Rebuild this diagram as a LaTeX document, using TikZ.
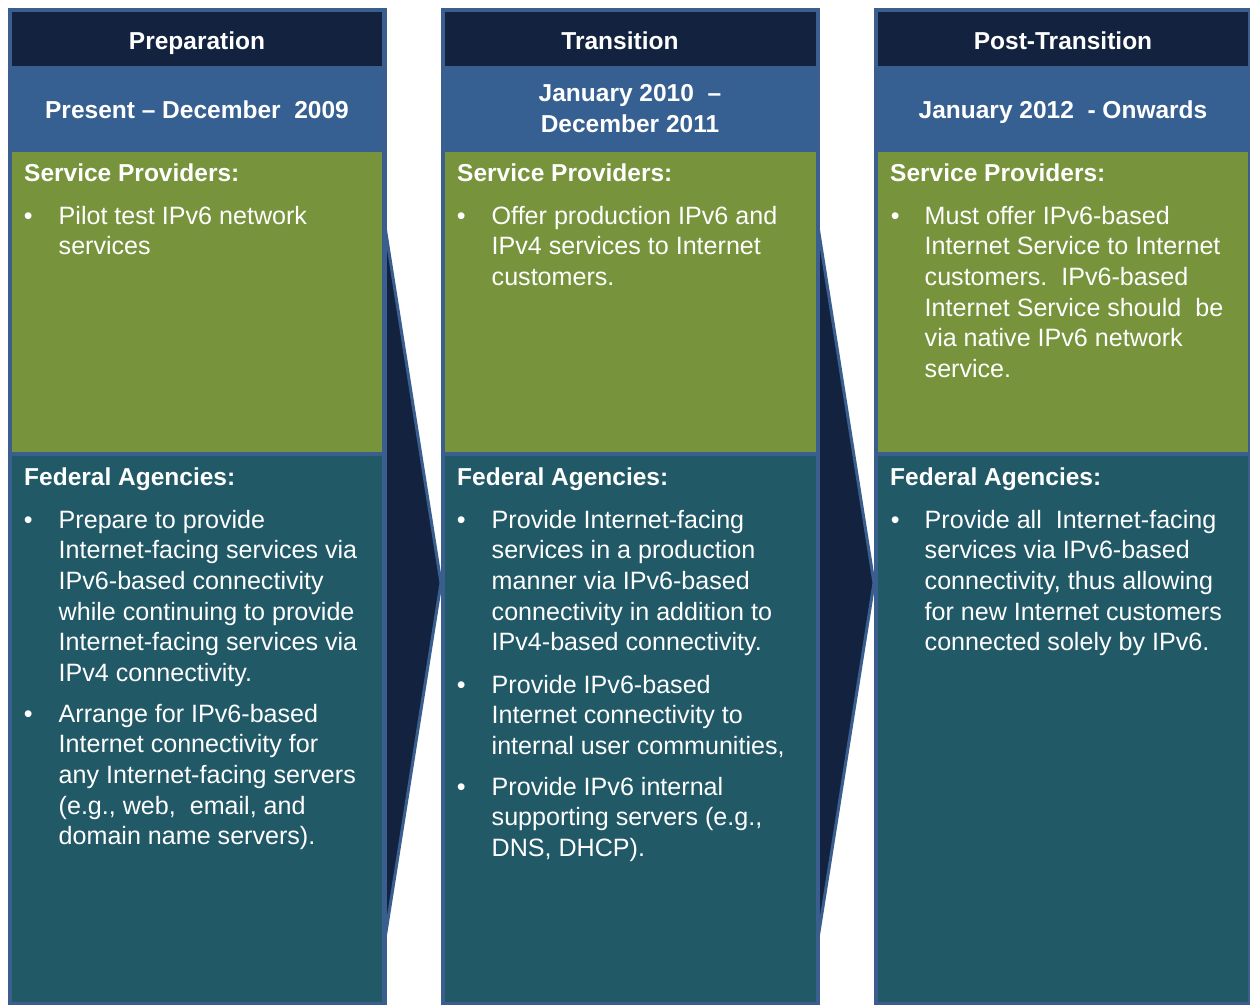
\documentclass[tikz,border=0pt]{standalone}
\usepackage{fontspec}
\setmainfont{Liberation Sans}
\definecolor{cNavy}{HTML}{13233F}
\definecolor{cBand}{HTML}{376092}
\definecolor{cBord}{HTML}{3A5F8F}
\definecolor{cOlive}{HTML}{77933C}
\definecolor{cTeal}{HTML}{215967}
\newcommand\drawcol[2]{%
  \fill[cBord] (#1,7.5) rectangle (#2,1005);
  \fill[cNavy] (#1+4.2,11.7) rectangle (#2-4.2,66);
  \fill[cBand] (#1+4.2,66) rectangle (#2-4.2,152.3);
  \fill[cOlive] (#1+4.2,152.3) rectangle (#2-4.2,452);
  \fill[cTeal] (#1+4.2,456) rectangle (#2-4.2,1001.5);
}
\newcommand\tlines[4]{%
  \foreach \myline [count=\i from 0] in {#4}
    \node[body] (#1-\i) at (#2,#3+\i*30.7) {\myline};
}
\begin{document}
\begin{tikzpicture}[x=1pt,y=-1pt,
  body/.style={anchor=base west,inner sep=0pt,text=white,font=\fontsize{25.1}{30.7}\selectfont},
  head/.style={anchor=base west,inner sep=0pt,text=white,font=\bfseries\fontsize{24.5}{30.7}\selectfont},
  ttl/.style={anchor=base,inner sep=0pt,text=white,font=\bfseries\fontsize{24.5}{30.7}\selectfont},
  chev/.style={fill=cNavy,draw=cBord,line width=3pt,line join=miter}]
\useasboundingbox (0,0) rectangle (1250,1004);
\clip (0,0) rectangle (1250,1004);

% chevrons
\draw[chev] (380,195) -- (441,583) -- (380,970) -- cycle;
\draw[chev] (813,195) -- (874,583) -- (813,970) -- cycle;

% columns
\drawcol{7.5}{386.5}
\drawcol{440.7}{819.7}
\drawcol{873.5}{1252.2}

% ---------- column 1 ----------
\node[ttl] (t1) at (197,49) {Preparation};
\node[ttl] (d1) at (197,118.3) {Present -- December\ \ 2009};
\node[head] (sp1) at (24,181.7) {Service Providers:};
\node[body] (sp1b) at (23.7,224) {•};
\tlines{sp1t}{58.5}{224}{Pilot test IPv6 network, services}
\node[head] (fa1) at (24,485.7) {Federal Agencies:};
\node[body] (fa1b1) at (23.7,528) {•};
\tlines{fa1a}{58.5}{528}{Prepare to provide, Internet-facing services via, IPv6-based connectivity, while continuing to provide, Internet-facing services via, IPv4 connectivity.}
\node[body] (fa1b2) at (23.7,722) {•};
\tlines{fa1b}{58.5}{722}{Arrange for IPv6-based, Internet connectivity for, any Internet-facing servers, {(e.g., web,\ \ email, and}, domain name servers).}

% ---------- column 2 ----------
\node[ttl] (t2) at (620,49) {Transition};
\node[ttl] (d2a) at (630,101.5) {January\ 2010\ \ --};
\node[ttl] (d2b) at (630,132.5) {December\ 2011};
\node[head] (sp2) at (457,181.7) {Service Providers:};
\node[body] (sp2b) at (456.7,224) {•};
\tlines{sp2t}{491.5}{224}{Offer production\ IPv6 and, IPv4 services to Internet, customers.}
\node[head] (fa2) at (457,485.7) {Federal Agencies:};
\node[body] (fa2b1) at (456.7,528) {•};
\tlines{fa2a}{491.5}{528}{Provide Internet-facing, services in a production, manner via IPv6-based, connectivity in addition to, IPv4-based connectivity.}
\node[body] (fa2b2) at (456.7,693) {•};
\tlines{fa2b}{491.5}{693}{Provide IPv6-based, Internet connectivity to, {internal user communities,}}
\node[body] (fa2b3) at (456.7,795) {•};
\tlines{fa2c}{491.5}{795}{Provide IPv6 internal, {supporting servers (e.g.,}, {DNS, DHCP).}}

% ---------- column 3 ----------
\node[ttl] (t3) at (1063,49) {Post-Transition};
\node[ttl] (d3) at (1063,118.3) {January\ 2012\ \ - Onwards};
\node[head] (sp3) at (890,181.7) {Service Providers:};
\node[body] (sp3b) at (890.7,224) {•};
\tlines{sp3t}{924.5}{224}{Must offer IPv6-based, Internet Service to Internet, customers.\ \ IPv6-based, Internet Service should\ \ be, via native IPv6 network, service.}
\node[head] (fa3) at (890,485.7) {Federal Agencies:};
\node[body] (fa3b1) at (890.7,528) {•};
\tlines{fa3a}{924.5}{528}{Provide all\ \ Internet-facing, services via IPv6-based, {connectivity, thus allowing}, for new Internet customers, connected solely by IPv6.}
\end{tikzpicture}
\end{document}
